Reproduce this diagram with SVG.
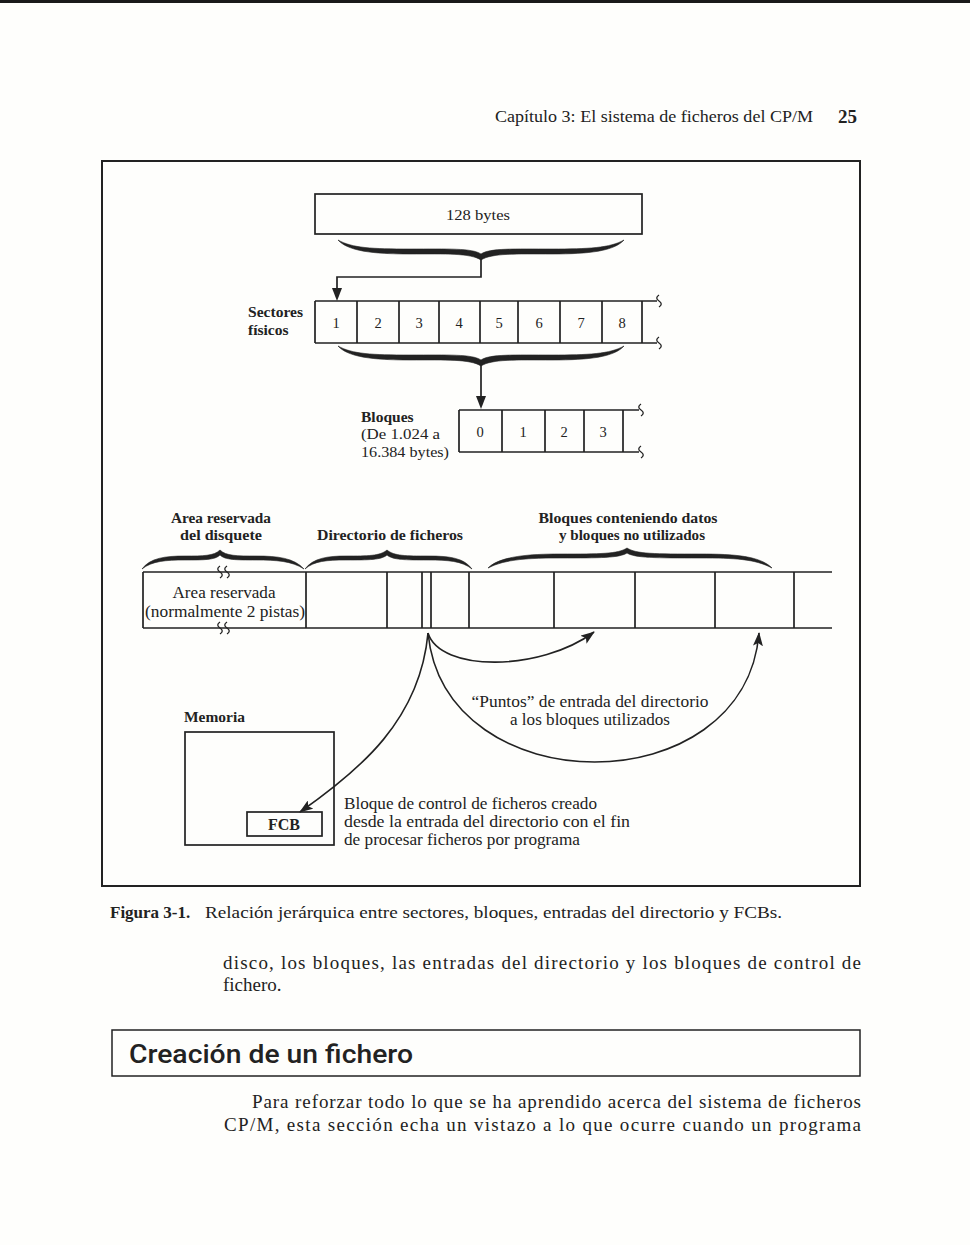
<svg xmlns="http://www.w3.org/2000/svg" width="970" height="1245" viewBox="0 0 970 1245">
<defs>
<style>
.s{font-family:"Liberation Serif","Times New Roman",serif;fill:#222}
.b{font-weight:bold}
.ln{fill:none;stroke:#222;stroke-width:1.7}
.fr{fill:none;stroke:#222;stroke-width:2}
.br{fill:#222;stroke:#222;stroke-width:0.6}
.sq{fill:none;stroke:#222;stroke-width:1.3}
.ar{fill:none;stroke:#222;stroke-width:1.6}
</style>
<marker id="ah" markerWidth="14" markerHeight="10" refX="13" refY="5" orient="auto" markerUnits="userSpaceOnUse">
<path d="M0,0 L14,5 L0,10 L3,5 Z" fill="#222"/>
</marker>
</defs>
<rect width="970" height="1245" fill="#fefefc"/>
<rect x="0" y="0" width="970" height="3" fill="#1a1a1a"/>

<g id="header">
<text class="s" x="495" y="122" font-size="16.5" textLength="318" lengthAdjust="spacingAndGlyphs">Capítulo 3: El sistema de ficheros del CP/M</text>
<text class="s b" x="838" y="123" font-size="19">25</text>
</g>

<rect id="frame" class="fr" x="102" y="161" width="758" height="725"/>

<g id="bytes128">
<rect class="ln" x="315" y="194" width="327" height="40"/>
<text class="s" x="478" y="220" font-size="15.5" text-anchor="middle" textLength="64" lengthAdjust="spacingAndGlyphs">128 bytes</text>
</g>

<g id="brace1">
<path class="br" d="M338,240 C348,251 372,254 410,254 C446,254 470,253 481,260 C492,253 516,254 552,254 C590,254 614,251 624,240 C610,248 588,249 552,249 C514,249 490,248 481,254 C472,248 448,249 410,249 C372,249 352,248 338,240 Z"/>
</g>

<g id="sectores">
<text class="s b" x="248" y="317" font-size="15.5" textLength="55" lengthAdjust="spacingAndGlyphs">Sectores</text>
<text class="s b" x="248" y="335" font-size="15.5">físicos</text>
<path class="ln" d="M315,301 H657 M315,343 H657 M315,301 V343 M357,301 V343 M399,301 V343 M439,301 V343 M480,301 V343 M518,301 V343 M560,301 V343 M602,301 V343 M642,301 V343"/>
<path class="sq" d="M659,295 c-3,2 -3,4 0,6 c3,2 3,4 0,6 M659,337 c-3,2 -3,4 0,6 c3,2 3,4 0,6"/>
<g class="s" font-size="14.5" text-anchor="middle">
<text x="336" y="328">1</text><text x="378" y="328">2</text><text x="419" y="328">3</text><text x="459" y="328">4</text><text x="499" y="328">5</text><text x="539" y="328">6</text><text x="581" y="328">7</text><text x="622" y="328">8</text>
</g>
</g>

<g id="brace2">
<path class="br" transform="translate(0,106)" d="M338,240 C348,251 372,254 410,254 C446,254 470,253 481,260 C492,253 516,254 552,254 C590,254 614,251 624,240 C610,248 588,249 552,249 C514,249 490,248 481,254 C472,248 448,249 410,249 C372,249 352,248 338,240 Z"/>
</g>

<g id="bloques">
<text class="s b" x="361" y="422" font-size="15.5">Bloques</text>
<text class="s" x="361" y="439" font-size="15.5" textLength="79" lengthAdjust="spacingAndGlyphs">(De 1.024 a</text>
<text class="s" x="361" y="457" font-size="15.5" textLength="88" lengthAdjust="spacingAndGlyphs">16.384 bytes)</text>
<path class="ln" d="M459,410 H639 M459,452 H639 M459,410 V452 M502,410 V452 M545,410 V452 M584,410 V452 M623,410 V452"/>
<path class="sq" d="M641,404 c-3,2 -3,4 0,6 c3,2 3,4 0,6 M641,446 c-3,2 -3,4 0,6 c3,2 3,4 0,6"/>
<g class="s" font-size="14.5" text-anchor="middle">
<text x="480" y="437">0</text><text x="523" y="437">1</text><text x="564" y="437">2</text><text x="603" y="437">3</text>
</g>
</g>

<g id="labels-row">
<text class="s b" x="221" y="523" font-size="15.5" text-anchor="middle" textLength="100" lengthAdjust="spacingAndGlyphs">Area reservada</text>
<text class="s b" x="221" y="540" font-size="15.5" text-anchor="middle" textLength="82" lengthAdjust="spacingAndGlyphs">del disquete</text>
<text class="s b" x="390" y="540" font-size="15.5" text-anchor="middle" textLength="146" lengthAdjust="spacingAndGlyphs">Directorio de ficheros</text>
<text class="s b" x="628" y="523" font-size="15.5" text-anchor="middle" textLength="179" lengthAdjust="spacingAndGlyphs">Bloques conteniendo datos</text>
<text class="s b" x="632" y="540" font-size="15.5" text-anchor="middle" textLength="146" lengthAdjust="spacingAndGlyphs">y bloques no utilizados</text>
</g>

<g id="braces-row">
<path class="br" d="M142,569 C150,558 165,556 185,556 C203,556 214,556 220,550 C226,556 237,556 256,556 C278,556 294,558 304,569 C292,561 276,560 256,560 C236,560 225,560 220,555 C215,560 204,560 185,560 C166,560 152,561 142,569 Z"/>
<path class="br" d="M305,569 C313,558 328,556 346,556 C368,556 380,556 387,550 C394,556 406,556 428,556 C450,556 464,558 472,569 C462,561 448,560 428,560 C405,560 393,560 387,555 C381,560 369,560 346,560 C327,560 314,561 305,569 Z"/>
<path class="br" d="M488,568 C500,556 530,554 560,554 C600,554 618,554 627,548 C636,554 655,554 700,554 C735,554 760,556 772,568 C755,559 735,558 700,558 C655,558 635,558 627,553 C619,558 600,558 560,558 C530,558 505,559 488,568 Z"/>
</g>

<g id="disco">
<path class="ln" d="M143,572 H832 M143,628 H832 M143,572 V628 M306,572 V628 M387,572 V628 M422,572 V628 M431,572 V628 M469,572 V628 M554,572 V628 M635,572 V628 M715,572 V628 M794,572 V628"/>
<path class="sq" d="M220,566 c-3,2 -3,4 0,6 c3,2 3,4 0,6 M227,566 c-3,2 -3,4 0,6 c3,2 3,4 0,6 M220,622 c-3,2 -3,4 0,6 c3,2 3,4 0,6 M227,622 c-3,2 -3,4 0,6 c3,2 3,4 0,6"/>
<text class="s" x="224" y="598" font-size="16" text-anchor="middle" textLength="103" lengthAdjust="spacingAndGlyphs">Area reservada</text>
<text class="s" x="225" y="617" font-size="16" text-anchor="middle" textLength="160" lengthAdjust="spacingAndGlyphs">(normalmente 2 pistas)</text>
</g>

<g id="connectors">
<path class="ln" d="M481,258 V277 H337 V290"/>
<path d="M332,288 L342,288 L337,301 Z" fill="#222"/>
<path class="ln" d="M481,364 V398"/>
<path d="M476,396 L486,396 L481,409 Z" fill="#222"/>
<path class="ar" d="M428,633 C440,672 540,672 594,632" marker-end="url(#ah)"/>
<path class="ar" d="M428,633 C445,805 745,805 759,633" marker-end="url(#ah)"/>
<path class="ar" d="M428,633 C420,720 360,770 300,812" marker-end="url(#ah)"/>
</g>

<g id="puntos-label">
<text class="s" x="590" y="707" font-size="16.5" text-anchor="middle" textLength="237" lengthAdjust="spacingAndGlyphs">“Puntos” de entrada del directorio</text>
<text class="s" x="590" y="725" font-size="16.5" text-anchor="middle" textLength="160" lengthAdjust="spacingAndGlyphs">a los bloques utilizados</text>
</g>

<g id="memoria">
<text class="s b" x="184" y="722" font-size="15.5" textLength="61" lengthAdjust="spacingAndGlyphs">Memoria</text>
<rect class="ln" x="185" y="732" width="149" height="113"/>
</g>

<g id="fcb">
<rect class="ln" x="247" y="812" width="75" height="24" stroke-width="2"/>
<text class="s b" x="284" y="830" font-size="16" text-anchor="middle">FCB</text>
</g>

<g id="fcb-label">
<text class="s" x="344" y="809" font-size="16" textLength="253" lengthAdjust="spacingAndGlyphs">Bloque de control de ficheros creado</text>
<text class="s" x="344" y="827" font-size="16" textLength="286" lengthAdjust="spacingAndGlyphs">desde la entrada del directorio con el fin</text>
<text class="s" x="344" y="845" font-size="16" textLength="236" lengthAdjust="spacingAndGlyphs">de procesar ficheros por programa</text>
</g>

<g id="caption">
<text class="s b" x="110" y="918" font-size="17">Figura 3-1.</text>
<text class="s" x="205" y="918" font-size="17" textLength="577" lengthAdjust="spacingAndGlyphs">Relación jerárquica entre sectores, bloques, entradas del directorio y FCBs.</text>
</g>

<g id="body">
<text class="s" x="223" y="969" font-size="19" textLength="638" lengthAdjust="spacing">disco, los bloques, las entradas del directorio y los bloques de control de</text>
<text class="s" x="223" y="991" font-size="19">fichero.</text>
</g>

<g id="heading">
<rect x="112" y="1030" width="748" height="46" fill="none" stroke="#222" stroke-width="1.5"/>
<text x="129" y="1063" font-family="Roboto,'Liberation Sans',Arial,sans-serif" font-weight="500" font-size="25" fill="#222" textLength="284" lengthAdjust="spacingAndGlyphs">Creación de un fichero</text>
</g>

<g id="para">
<text class="s" x="252" y="1108" font-size="19" textLength="609" lengthAdjust="spacing">Para reforzar todo lo que se ha aprendido acerca del sistema de ficheros</text>
<text class="s" x="224" y="1131" font-size="19" textLength="637" lengthAdjust="spacing">CP/M, esta sección echa un vistazo a lo que ocurre cuando un programa</text>
</g>
</svg>
